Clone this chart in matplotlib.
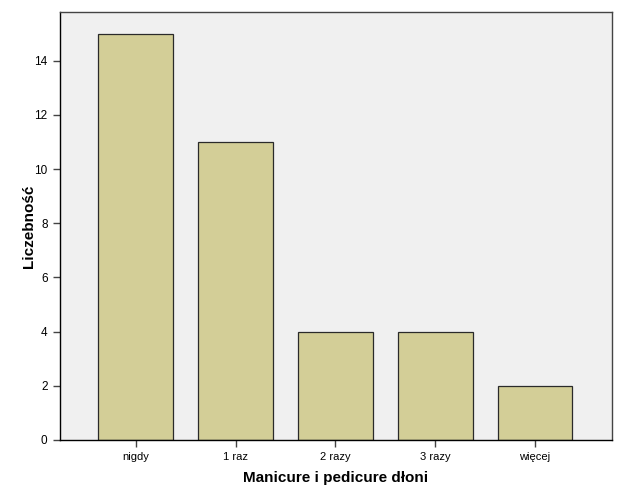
import matplotlib
matplotlib.use("Agg")
import matplotlib.pyplot as plt

categories = ["nigdy", "1 raz", "2 razy", "3 razy", "więcej"]
counts = [15, 11, 4, 4, 2]
yticks = [0, 2, 4, 6, 8, 10, 12, 14]

plt.rcParams['font.family'] = ['Liberation Sans', 'DejaVu Sans']

fig = plt.figure(figsize=(6.25, 5), dpi=100)
ax = fig.add_axes([0.096, 0.12, 0.883, 0.856])
ax.set_facecolor("#F0F0F0")

x = range(len(categories))
ax.bar(x, counts, width=0.75, color="#D3CE97", edgecolor="#2a2a2a", linewidth=0.9, zorder=2)

ax.set_xlim(-0.76, 4.77)
ax.set_ylim(0, 15.8)
ax.set_xticks(list(x))
ax.set_xticklabels(categories, fontsize=8)
ax.set_yticks(yticks)
ax.set_yticklabels([str(v) for v in yticks], fontsize=8.5)
ax.tick_params(axis="both", direction="out", length=5, width=1, color="#444444", pad=4)

for side in ["left", "bottom"]:
    ax.spines[side].set_color("#000000")
    ax.spines[side].set_linewidth(1)
for side in ["top", "right"]:
    ax.spines[side].set_color("#444444")
    ax.spines[side].set_linewidth(1)

ax.set_xlabel("Manicure i pedicure dłoni", fontsize=11, fontweight="bold", labelpad=6)
ax.set_ylabel("Liczebność", fontsize=11, fontweight="bold", labelpad=-1)

fig.savefig("out.png", dpi=100)
